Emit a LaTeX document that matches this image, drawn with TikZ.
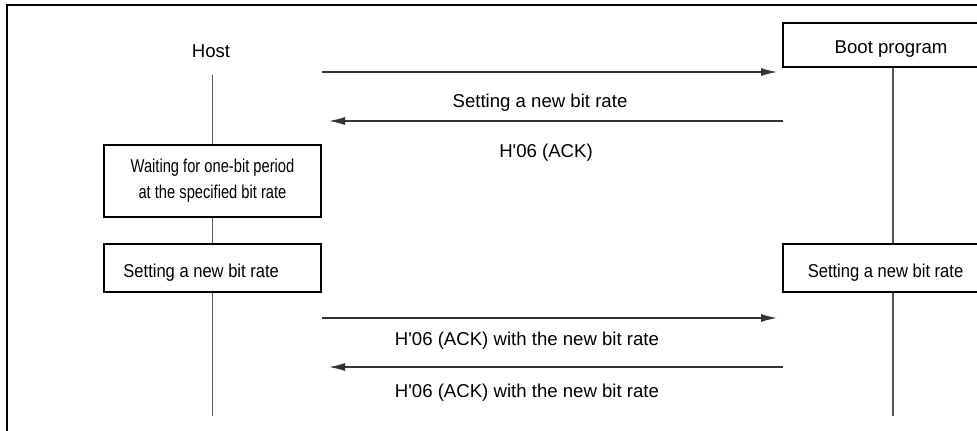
\documentclass[tikz,border=0pt]{standalone}
\usepackage{fontspec}
\setmainfont{Liberation Sans}
\newfontfamily\boxfont[FakeStretch=0.89]{Liberation Sans}
\newfontfamily\waitfont[FakeStretch=0.79]{Liberation Sans}
\usetikzlibrary{arrows.meta}

\begin{document}
\begin{tikzpicture}[x=0.5pt, y=-0.5pt,
    every node/.style={font=\fontsize{9.3}{13}\selectfont},
    stepbox/.style={draw, line width=1pt, minimum width=108.5pt, inner sep=0pt},
    msg/.style={line width=0.6pt, draw=black!80, -{Latex[length=8pt, width=4pt]}},
    life/.style={line width=0.6pt, draw=black!65}]
  \useasboundingbox (0,0) rectangle (977,430);
  \clip (0,0) rectangle (977,430);

  % Frame (only top and left edges fall inside the page)
  \draw[line width=1.3pt] (7,460) -- (7,5) -- (1000,5);

  % Coordinates
  \coordinate (hostTop) at (212.5,75);
  \coordinate (hostEnd) at (212.5,416);
  \coordinate (bootX) at (893,0);
  \coordinate (bootEnd) at (893,416);
  \coordinate (A1) at (322,72);
  \coordinate (B1) at (777,72);
  \coordinate (A2) at (783,121);
  \coordinate (B2) at (329,121);
  \coordinate (A3) at (322,318);
  \coordinate (B3) at (777,318);
  \coordinate (A4) at (783,367);
  \coordinate (B4) at (329,367);

  % Participants and boxes
  \node[anchor=base] (host) at (211,57) {Host};
  \node[stepbox, minimum height=22pt] (boot) at (891.5,45) {};
  \node[anchor=base] at (891,53) {Boot program};
  \node[stepbox, minimum height=36pt, align=center] (wait) at (212.5,181)
    {\waitfont Waiting for one-bit period\\\waitfont at the specified bit rate};
  \node[stepbox, minimum height=24pt] (setL) at (212.5,268) {};
  \node[anchor=base west, inner sep=0pt] at (123,277) {\boxfont Setting a new bit rate};
  \node[stepbox, minimum height=24pt, minimum width=102.5pt] (setR) at (885.5,268) {};
  \node[anchor=base] at (885.5,277) {\boxfont Setting a new bit rate};

  % Lifelines
  \draw[life] (hostTop) -- (wait.north);
  \draw[life] (wait.south) -- (setL.north);
  \draw[life] (setL.south) -- (hostEnd);
  \draw[life] (boot.south -| bootX) -- (setR.north -| bootX);
  \draw[life] (setR.south -| bootX) -- (bootEnd);

  % Messages
  \draw[msg] (A1) -- (B1);
  \draw[msg] (A2) -- (B2);
  \draw[msg] (A3) -- (B3);
  \draw[msg] (A4) -- (B4);

  % Labels
  \node[anchor=base] (m1) at (540,107) {Setting a new bit rate};
  \node[anchor=base] (m2) at (546,157) {H\textquotesingle 06 (ACK)};
  \node[anchor=base] (m3) at (527,345) {H\textquotesingle 06 (ACK) with the new bit rate};
  \node[anchor=base] (m4) at (527,397) {H\textquotesingle 06 (ACK) with the new bit rate};
\end{tikzpicture}
\end{document}
